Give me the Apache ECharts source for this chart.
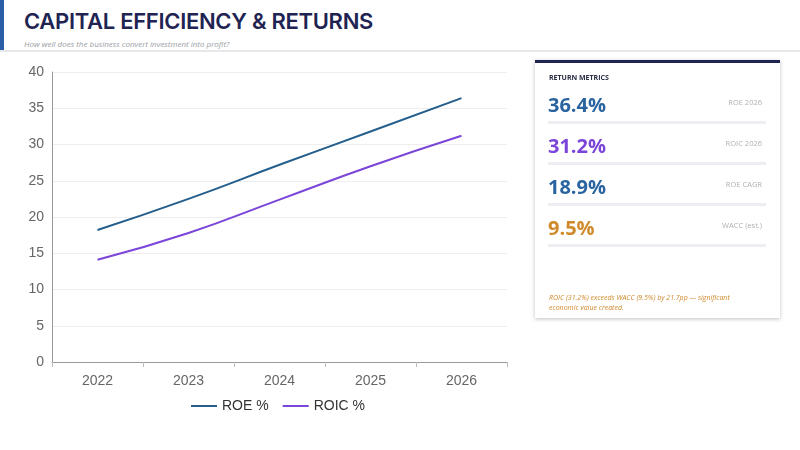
<!DOCTYPE html>
<html><head><meta charset="utf-8">
<script src="https://cdn.jsdelivr.net/npm/echarts@6/dist/echarts.min.js"></script>
<style>
body{margin:0;width:800px;height:450px;background:#fff;font-family:Inter,"Open Sans",sans-serif;position:relative;overflow:hidden}
#hdr{position:absolute;left:0;top:0;width:800px;height:50px;border-bottom:2px solid #e6e8ec}
#bar{position:absolute;left:0;top:0;width:4px;height:50px;background:#2a5fa8}
#t{position:absolute;left:24px;top:8px;font-size:22px;font-weight:600;color:#1f2452;letter-spacing:-0.3px}
#s{position:absolute;left:24px;top:38px;font-size:8px;font-style:italic;color:#9a9ea6;font-family:"Open Sans"}
#c{position:absolute;left:0;top:52px;width:530px;height:380px}
#p{position:absolute;left:535px;top:60px;width:245px;height:258px;background:#fff;border-top:3px solid #1f2452;box-shadow:0 1px 4px rgba(0,0,0,0.25);box-sizing:border-box;font-family:"Open Sans"}
.h{position:absolute;left:14px;top:10px;font-size:7px;font-weight:700;color:#2b2f45}
.m{position:absolute;left:13px;right:14px;height:30px;border-bottom:3px solid #eceef2}
.v{position:absolute;left:0;top:0;font-size:20px;font-weight:700}
.l{position:absolute;right:4px;top:6px;font-size:7.5px;color:#b0b0b0}
.n{position:absolute;left:14px;top:230px;font-size:7px;font-style:italic;color:#d08a2a;line-height:10px;width:200px}
</style></head><body>
<div id="hdr"><div id="bar"></div><div id="t">CAPITAL EFFICIENCY &amp; RETURNS</div><div id="s">How well does the business convert investment into profit?</div></div>
<div id="c"></div>
<div id="p"><div class="h">RETURN METRICS</div><div id="ms"></div>
<div class="n">ROIC (31.2%) exceeds WACC (9.5%) by 21.7pp — significant economic value created.</div></div>
<script>
const years=["2022","2023","2024","2025","2026"];
const roe=[18.2,22.5,27.2,31.8,36.4];
const roic=[14.1,17.8,22.4,27.0,31.2];
const metricValues=["36.4%","31.2%","18.9%","9.5%"];
const metricLabels=["ROE 2026","ROIC 2026","ROE CAGR","WACC (est.)"];
const metricColors=["#2a64a0","#7a45d8","#2a64a0","#d08a2a"];
let h="";
metricValues.forEach((v,i)=>{h+=`<div class="m" style="top:${28+i*41}px"><div class="v" style="color:${metricColors[i]}">${v}</div><div class="l">${metricLabels[i]}</div></div>`;});
document.getElementById('ms').innerHTML=h;
const ch=echarts.init(document.getElementById('c'));
ch.setOption({
 animation:false,
 grid:{left:52,right:23,top:20,bottom:70},
 legend:{bottom:14,left:186,itemWidth:26,itemHeight:2,icon:'rect',textStyle:{fontSize:14,color:'#333',fontFamily:'Liberation Sans'},itemGap:14},
 xAxis:{type:'category',data:years,axisLine:{lineStyle:{color:'#999'}},axisTick:{show:true,lineStyle:{color:'#bbb'}},axisLabel:{fontSize:14,color:'#666',margin:12,fontFamily:'Liberation Sans'}},
 yAxis:{type:'value',min:0,max:40,interval:5,axisLine:{show:true,lineStyle:{color:'#999'}},splitLine:{lineStyle:{color:'#eee'}},axisLabel:{fontSize:14,color:'#666',fontFamily:'Liberation Sans'}},
 series:[
  {name:'ROE %',type:'line',data:roe,smooth:true,showSymbol:false,lineStyle:{width:2,color:'#245e8c'},itemStyle:{color:'#245e8c'}},
  {name:'ROIC %',type:'line',data:roic,smooth:true,showSymbol:false,lineStyle:{width:2,color:'#7a45d8'},itemStyle:{color:'#7a45d8'}}
 ]
});
</script></body></html>
